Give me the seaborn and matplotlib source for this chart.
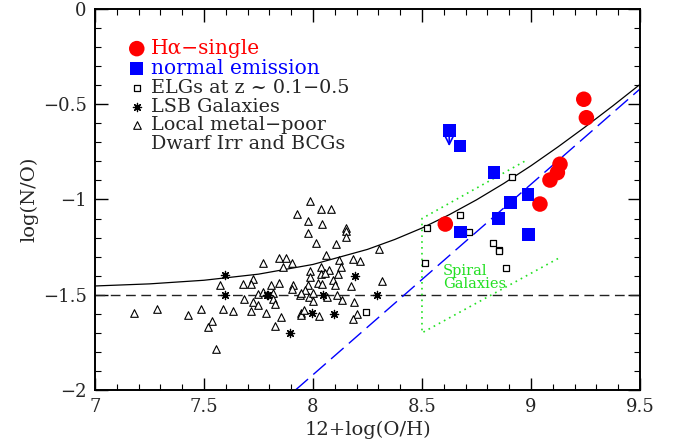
import seaborn as sns
import matplotlib.pyplot as plt
from matplotlib.lines import Line2D
from matplotlib.ticker import MultipleLocator, FuncFormatter

sns.set_theme(style="ticks")
plt.rcParams['font.family'] = ['DejaVu Serif']

# H-alpha single galaxies
ha_x = [9.242, 9.254, 9.133, 9.121, 9.087, 9.041, 8.607]
ha_y = [-0.474, -0.571, -0.815, -0.859, -0.898, -1.024, -1.129]

# normal emission galaxies
ne_x = [8.625, 8.674, 8.830, 8.986, 8.906, 8.851, 8.677, 8.989]
ne_y = [-0.639, -0.719, -0.859, -0.975, -1.017, -1.101, -1.171, -1.185]

# ELGs at z ~ 0.1-0.5
elg_x = [8.913, 8.674, 8.524, 8.714, 8.824, 8.851, 8.855, 8.512, 8.885, 8.243]
elg_y = [-0.880, -1.080, -1.150, -1.171, -1.230, -1.266, -1.272, -1.332, -1.360, -1.591]

# LSB galaxies
lsb_x = [7.596, 7.596, 8.194, 8.295, 8.096, 7.995, 7.894, 7.796, 8.047, 7.788]
lsb_y = [-1.398, -1.500, -1.401, -1.499, -1.601, -1.597, -1.699, -1.499, -1.499, -1.501]

# local metal-poor dwarf irregulars and BCGs
dw_x = [7.986, 8.035, 8.085, 7.925, 7.977, 8.041, 8.151, 8.151, 7.977, 8.151,
        8.013, 8.105, 8.304, 8.059, 7.769, 7.845, 7.876, 7.902, 8.121, 8.185,
        8.215, 7.861, 7.986, 8.035, 8.072, 8.127, 7.986, 8.035, 8.056, 8.117,
        8.093, 7.723, 7.677, 7.717, 7.806, 7.845, 7.910, 7.977, 8.023, 8.041,
        8.102, 8.176, 8.316, 7.747, 7.772, 7.815, 7.903, 7.940, 7.965, 7.983,
        8.001, 7.946, 8.065, 8.111, 8.133, 7.686, 7.726, 7.747, 7.818, 7.827,
        8.188, 7.634, 7.717, 7.784, 7.943, 7.943, 7.961, 8.026, 7.854, 8.203,
        8.182, 7.827, 8.001, 7.178, 7.284, 7.425, 7.486, 7.587, 7.572, 7.535,
        7.520, 7.554]
dw_y = [-1.006, -1.048, -1.048, -1.078, -1.111, -1.130, -1.150, -1.165, -1.178, -1.199,
        -1.230, -1.234, -1.258, -1.290, -1.333, -1.305, -1.305, -1.335, -1.318, -1.311,
        -1.325, -1.356, -1.374, -1.356, -1.370, -1.356, -1.409, -1.391, -1.384, -1.391,
        -1.423, -1.416, -1.445, -1.444, -1.447, -1.437, -1.447, -1.447, -1.440, -1.444,
        -1.451, -1.454, -1.430, -1.496, -1.486, -1.493, -1.472, -1.503, -1.475, -1.510,
        -1.489, -1.489, -1.510, -1.503, -1.528, -1.524, -1.538, -1.556, -1.521, -1.549,
        -1.538, -1.584, -1.587, -1.594, -1.594, -1.608, -1.580, -1.611, -1.615, -1.601,
        -1.625, -1.664, -1.535, -1.597, -1.576, -1.605, -1.576, -1.576, -1.447, -1.636,
        -1.668, -1.783]

# model curve (solid)
curve_x = [7.0, 7.25, 7.5, 7.75, 8.0, 8.25, 8.375, 8.5, 8.625, 8.75, 8.875, 9.0, 9.125, 9.25, 9.375, 9.5]
curve_y = [-1.454, -1.443, -1.424, -1.392, -1.341, -1.262, -1.210, -1.150, -1.080, -1.002, -0.916,
           -0.823, -0.723, -0.618, -0.509, -0.396]

# secondary nitrogen line (blue long dash)
sec_x = [7.92, 9.5]
sec_y = [-2.0, -0.42]

# primary nitrogen plateau
plateau_y = -1.5

# spiral galaxies region (green dotted)
spiral_x = [8.97, 8.5, 8.5, 9.14]
spiral_y = [-0.80, -1.10, -1.70, -1.30]

# upper limit arrow
arrow_x = 8.625
arrow_y = [-0.645, -0.735]

green = "#22e022"

fig = plt.figure(figsize=(6.73, 4.47), dpi=100)
ax = fig.add_axes([0.141, 0.1275, 0.810, 0.8525])

ax.axhline(plateau_y, color="#222222", lw=1.0, dashes=(7, 4), zorder=1)
sns.lineplot(x=curve_x, y=curve_y, color="black", lw=0.9, sort=False, estimator=None, ax=ax, zorder=2)
sns.lineplot(x=sec_x, y=sec_y, color="blue", lw=1.0, sort=False, estimator=None, ax=ax,
             linestyle=(0, (12, 5)), zorder=2)
sns.lineplot(x=spiral_x, y=spiral_y, color=green, lw=1.2, sort=False, estimator=None, ax=ax,
             linestyle=(0, (1, 2.5)), zorder=2)

sns.scatterplot(x=ha_x, y=ha_y, marker="o", s=125, color="red", edgecolor="none",
                label="Hα−single", ax=ax, zorder=5)
sns.scatterplot(x=ne_x, y=ne_y, marker="s", s=82, color="blue", edgecolor="none",
                label="normal emission", ax=ax, zorder=5)
sns.scatterplot(x=elg_x, y=elg_y, marker="s", s=18, facecolor="white", edgecolor="black",
                linewidth=0.9, label="ELGs at z ~ 0.1−0.5", ax=ax, zorder=4)
sns.scatterplot(x=lsb_x, y=lsb_y, marker=(8, 2, 0), s=35, color="black", edgecolor="black",
                linewidth=0.9, label="LSB Galaxies", ax=ax, zorder=4)
sns.scatterplot(x=dw_x, y=dw_y, marker="^", s=30, facecolor="white", edgecolor="black",
                linewidth=0.8, label="Local metal−poor", ax=ax, zorder=3)

ax.annotate("", xy=(arrow_x, arrow_y[1]), xytext=(arrow_x, arrow_y[0]),
            arrowprops=dict(arrowstyle="->", color="blue", lw=1.2, mutation_scale=14), zorder=6)

ax.text(8.595, -1.34, "Spiral\nGalaxies", color=green, fontsize=10.5, va="top", ha="left",
        linespacing=0.9)

handles, labels = ax.get_legend_handles_labels()
handles.append(Line2D([], [], linestyle="none"))
labels.append("Dwarf Irr and BCGs")
leg = ax.legend(handles, labels, loc="upper left", bbox_to_anchor=(0.061, 0.922), frameon=False,
                handlelength=0.9, handletextpad=0.3, labelspacing=0.05, borderpad=0,
                fontsize=13.8, borderaxespad=0)
texts = leg.get_texts()
texts[0].set_color("red")
texts[0].set_fontsize(14.5)
texts[1].set_color("blue")
texts[1].set_fontsize(14.5)

ax.set_xlim(7, 9.5)
ax.set_ylim(-2, 0)
ax.xaxis.set_major_locator(MultipleLocator(0.5))
ax.xaxis.set_minor_locator(MultipleLocator(0.1))
ax.yaxis.set_major_locator(MultipleLocator(0.5))
ax.yaxis.set_minor_locator(MultipleLocator(0.1))
fmt = FuncFormatter(lambda v, p: f"{v:g}".replace("-", "−"))
ax.xaxis.set_major_formatter(fmt)
ax.yaxis.set_major_formatter(fmt)
ax.tick_params(which="both", direction="in", top=True, right=True, labelsize=13, color="black")
ax.tick_params(which="major", length=9, width=1.0, pad=6)
ax.tick_params(which="minor", length=4.5, width=0.8)
for sp in ax.spines.values():
    sp.set_linewidth(1.4)
    sp.set_color("black")

ax.set_xlabel("12+log(O/H)", fontsize=14, labelpad=3)
ax.set_ylabel("log(N/O)", fontsize=14, labelpad=3)

plt.savefig("out.png", dpi=100)
plt.close()
